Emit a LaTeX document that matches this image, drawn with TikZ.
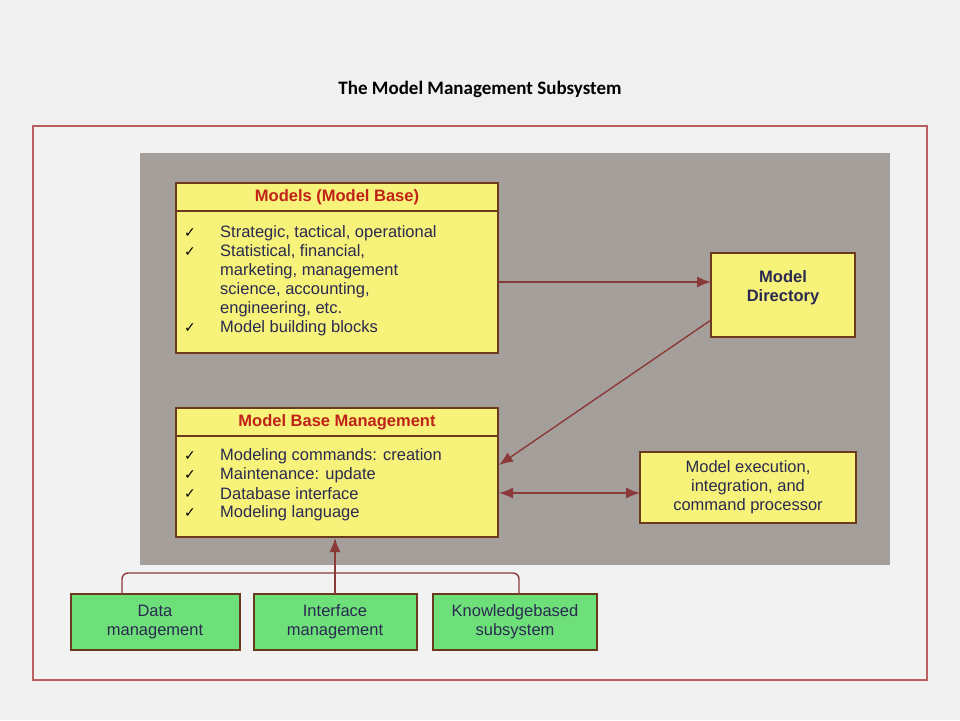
\documentclass[tikz,border=0pt]{standalone}
\usepackage{fontspec}
\setmainfont{Liberation Sans}
\newfontfamily\titlefont{Carlito}
\newfontfamily\ckfont{DejaVu Sans}
\usetikzlibrary{arrows.meta}
\definecolor{bord}{HTML}{6B3A1E}
\definecolor{yel}{HTML}{F7F27A}
\definecolor{grn}{HTML}{6EE07A}
\definecolor{arr}{HTML}{8B3A3A}
\definecolor{panel}{HTML}{A59F9C}
\definecolor{frame}{HTML}{B86060}
\definecolor{txt}{HTML}{2A2A50}
\definecolor{hdr}{HTML}{C0221A}
\begin{document}
\begin{tikzpicture}[x=1pt,y=-1pt,
  box/.style={draw=bord,line width=2.2pt},
  lbl/.style={font=\fontsize{16.5}{19}\selectfont,text=txt,align=center},
  itm/.style={font=\fontsize{16.5}{19}\selectfont,text=txt,anchor=west,inner sep=0pt},
  ck/.style={font=\ckfont\fontsize{14}{15}\selectfont,text=black,anchor=west,inner sep=0pt},
  head/.style={font=\bfseries\fontsize{16.5}{19}\selectfont,text=hdr},
  tip/.style={Latex[length=14pt,width=11pt]},
  con/.style={draw=arr,line width=1.4pt,-{Latex[length=14pt,width=11pt]}}]
\useasboundingbox (0,0) rectangle (960,720);
\fill[white!94!black] (0,0) rectangle (960,720);
\node[font=\titlefont\bfseries\fontsize{19}{22}\selectfont] (title) at (480,89) {The Model Management Subsystem};
\draw[draw=frame,line width=1.2pt,fill=white!95!black] (33,126) rectangle (927,680);
\fill[panel] (140,153) rectangle (890,565);
% Models box
\draw[box,fill=yel] (176,183) rectangle (498,353);
\draw[bord,line width=2.2pt] (176,211) -- (498,211);
\node[head] (mh) at (337,197) {Models (Model Base)};
\foreach \y/\t in {233/{Strategic, tactical, operational},252/{Statistical, financial,},271/{marketing, management},290/{science, accounting,},309/{engineering, etc.},328/{Model building blocks}} {\node[itm] at (220,\y) {\t};}
\foreach \y in {233,252,328} {\node[ck] at (184,\y) {✓};}
% Directory
\draw[box,fill=yel] (711,253) rectangle (855,337);
\node[lbl,font=\bfseries\fontsize{16.5}{19}\selectfont] (dir) at (783,288) {Model\\Directory};
% MBM
\draw[box,fill=yel] (176,408) rectangle (498,537);
\draw[bord,line width=2.2pt] (176,436) -- (498,436);
\node[head] (mbmh) at (337,422) {Model Base Management};
\foreach \y/\t in {456/{Modeling commands: creation},475/{Maintenance: update},494/{Database interface},513/{Modeling language}} {\node[itm] at (220,\y) {\t}; \node[ck] at (184,\y) {✓};}
% Execution
\draw[box,fill=yel] (640,452) rectangle (856,523);
\node[lbl] (exe) at (748,487) {Model execution,\\integration, and\\command processor};
% Green boxes
\draw[box,fill=grn] (71,594) rectangle (240,650);
\node[lbl] (dm) at (155,622) {Data\\management};
\draw[box,fill=grn] (254,594) rectangle (417,650);
\node[lbl] (im) at (335,622) {Interface\\management};
\draw[box,fill=grn] (433,594) rectangle (597,650);
\node[lbl] (kb) at (515,622) {Knowledgebased\\subsystem};
% connectors
\coordinate (a1) at (498,282); \coordinate (a2) at (711,282);
\draw[con] (a1) -- (a2);
\coordinate (b1) at (711,320); \coordinate (b2) at (499,465);
\draw[con] (b1) -- (b2);
\coordinate (c1) at (499,493); \coordinate (c2) at (640,493);
\draw[con,{Latex[length=14pt,width=11pt]}-{Latex[length=14pt,width=11pt]}] (c1) -- (c2);
\coordinate (d1) at (335,594); \coordinate (d2) at (335,538);
\draw[con] (d1) -- (d2);
\coordinate (l1) at (122,594); \coordinate (r1) at (519,594);
\draw[draw=arr,line width=1.4pt,rounded corners=6pt] (l1) -- (122,573) -- (519,573) -- (r1);
\end{tikzpicture}
\end{document}
